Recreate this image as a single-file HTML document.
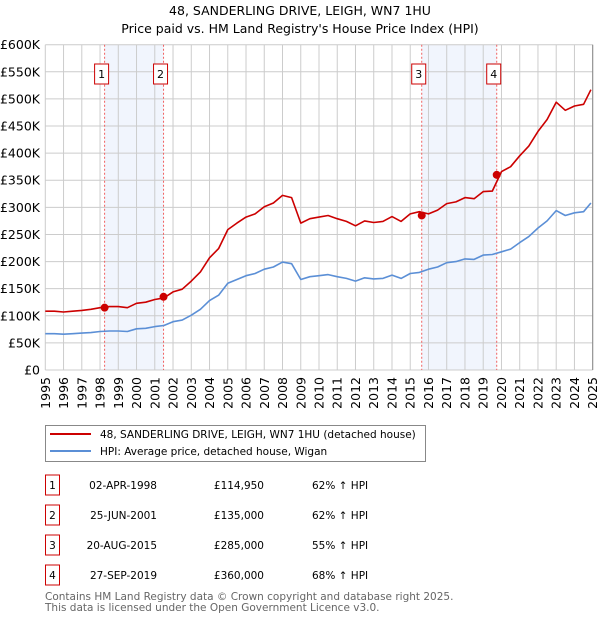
<!DOCTYPE html>
<html><head><meta charset="utf-8"><style>
body{margin:0;background:#fff;font-family:"Liberation Sans","DejaVu Sans",sans-serif;}
svg text{font-family:"DejaVu Sans","Liberation Sans",sans-serif;}
</style></head><body>
<svg id="chart" width="600" height="620" xmlns="http://www.w3.org/2000/svg">
<text x="300" y="15" text-anchor="middle" font-size="12.5" fill="#000">48, SANDERLING DRIVE, LEIGH, WN7 1HU</text>
<text x="300" y="33" text-anchor="middle" font-size="12.5" fill="#000">Price paid vs. HM Land Registry's House Price Index (HPI)</text>
<g id="plot"></g>
<g>
<rect x="45.5" y="425.5" width="380" height="36" fill="#fff" stroke="#888"/>
<line x1="50" y1="434" x2="91" y2="434" stroke="#cc0000" stroke-width="2"/>
<text x="100" y="438" font-size="10.5">48, SANDERLING DRIVE, LEIGH, WN7 1HU (detached house)</text>
<line x1="50" y1="451" x2="91" y2="451" stroke="#5b8fd6" stroke-width="2"/>
<text x="100" y="455" font-size="10.5">HPI: Average price, detached house, Wigan</text>
</g>
<g id="table" font-size="10.5"></g>
<text x="45" y="600" font-size="10.5" fill="#666">Contains HM Land Registry data © Crown copyright and database right 2025.</text>
<text x="45" y="611" font-size="10.5" fill="#666">This data is licensed under the Open Government Licence v3.0.</text>
</svg>
<script>
const years=[1995,1995.5,1996,1996.5,1997,1997.5,1998,1998.5,1999,1999.5,2000,2000.5,2001,2001.5,2002,2002.5,2003,2003.5,2004,2004.5,2005,2005.5,2006,2006.5,2007,2007.5,2008,2008.5,2009,2009.5,2010,2010.5,2011,2011.5,2012,2012.5,2013,2013.5,2014,2014.5,2015,2015.5,2016,2016.5,2017,2017.5,2018,2018.5,2019,2019.5,2020,2020.5,2021,2021.5,2022,2022.5,2023,2023.5,2024,2024.5,2024.9];
const hpiValues=[67,67,66,67,68,69,71,72,72,71,76,77,80,82,89,92,101,112,128,138,160,167,174,178,186,190,199,196,167,172,174,176,172,169,164,170,168,169,175,169,178,180,186,190,198,200,205,204,212,213,218,223,235,246,262,275,294,285,290,292,308];
const propertyValues=[108.5,108.5,107,108.5,110,112,115,117,117,115,123,125,130,133,144,149,164,181,207,224,259,271,282,288,301,308,322,318,271,279,282,285,279,274,266,275,272,274,283,274,288,292,288,295,307,310,318,316,329,330,366,375,395,413,440,462,494,479,487,490,517];
const saleYears=[1998.25,2001.48,2015.63,2019.74];
const salePrices=[114.95,135,285,360];
const saleLabels=["1","2","3","4"];
const saleDates=["02-APR-1998","25-JUN-2001","20-AUG-2015","27-SEP-2019"];
const salePriceText=["£114,950","£135,000","£285,000","£360,000"];
const saleHpiText=["62% ↑ HPI","62% ↑ HPI","55% ↑ HPI","68% ↑ HPI"];
const yTicks=[0,50,100,150,200,250,300,350,400,450,500,550,600];
const yTickLabels=["£0","£50K","£100K","£150K","£200K","£250K","£300K","£350K","£400K","£450K","£500K","£550K","£600K"];
const xTicks=[1995,1996,1997,1998,1999,2000,2001,2002,2003,2004,2005,2006,2007,2008,2009,2010,2011,2012,2013,2014,2015,2016,2017,2018,2019,2020,2021,2022,2023,2024,2025];

const NS="http://www.w3.org/2000/svg";
const X0=45.3,X1=592.7,Y0=370,Y1=44.7;
const xs=t=>X0+(t-1995)/30*(X1-X0);
const ys=v=>Y0-v/600*(Y0-Y1);
const plot=document.getElementById('plot');
function mk(tag,attrs,parent){const e=document.createElementNS(NS,tag);for(const k in attrs)e.setAttribute(k,attrs[k]);(parent||plot).appendChild(e);return e;}

// shaded regions
for(let i=0;i<saleYears.length;i+=2){
  const r=mk('rect',{x:xs(saleYears[i]),y:Y1,width:xs(saleYears[i+1])-xs(saleYears[i]),height:Y0-Y1,fill:'#eef3fc',opacity:0.8});
  
  
}
// grid
yTicks.forEach((v,i)=>{
  const l=mk('line',{x1:X0,x2:X1,y1:ys(v),y2:ys(v),stroke:'#ccc','stroke-width':1});
  
  
  const t=mk('text',{x:40,y:ys(v)+4.5,'text-anchor':'end','font-size':12.5});
  t.textContent=yTickLabels[i];
  
  
});
xTicks.forEach(yr=>{
  const l=mk('line',{x1:xs(yr),x2:xs(yr),y1:Y1,y2:Y0,stroke:'#ccc','stroke-width':1});
  
  
  const t=mk('text',{x:0,y:0,'text-anchor':'end','font-size':12.5,transform:`translate(${xs(yr)+4.5},377) rotate(-90)`});
  t.textContent=yr;
  
  
});
// sale vlines and labels
saleYears.forEach((yr,i)=>{
  const l=mk('line',{x1:xs(yr),x2:xs(yr),y1:Y1,y2:Y0,stroke:'#f06060','stroke-width':1,'stroke-dasharray':'2,2'});
  
  
  const bx=xs(yr)-10;
  const r=mk('rect',{x:bx,y:64,width:14,height:20,fill:'#fff',stroke:'#cc0000','stroke-width':1});
  
  
  const t=mk('text',{x:bx+7,y:78,'text-anchor':'middle','font-size':11});
  t.textContent=saleLabels[i];
  
  
});
// lines
function line(vals,color,name){
  const d=vals.map((v,i)=>(i?'L':'M')+xs(years[i]).toFixed(1)+','+ys(v).toFixed(1)).join('');
  const p=mk('path',{d:d,fill:'none',stroke:color,'stroke-width':1.6,'stroke-linejoin':'round'});
  
  
}
line(hpiValues,'#5b8fd6','hpi-line');
line(propertyValues,'#cc0000','property-price-line');
saleYears.forEach((yr,i)=>{
  const c=mk('circle',{cx:xs(yr),cy:ys(salePrices[i]),r:4,fill:'#cc0000'});
  
  
});
mk('line',{x1:X1,x2:X1,y1:Y1,y2:Y0,stroke:'#888','stroke-width':1});
// table
const tbl=document.getElementById('table');
saleYears.forEach((yr,i)=>{
  const cy=485+i*30;
  const r=mk('rect',{x:45.5,y:cy-10,width:14,height:20,fill:'#fff',stroke:'#cc0000','stroke-width':1},tbl);
  
  
  const cells=[[52.5,'middle',saleLabels[i],'table-row-number'],[157,'end',saleDates[i],'table-sale-date'],[264,'end',salePriceText[i],'table-sale-price'],[312,'start',saleHpiText[i],'table-hpi-diff']];
  cells.forEach(c=>{
    const t=mk('text',{x:c[0],y:cy+4,'text-anchor':c[1]},tbl);
    t.textContent=c[2];
    
    
  });
});
</script>
</body></html>
